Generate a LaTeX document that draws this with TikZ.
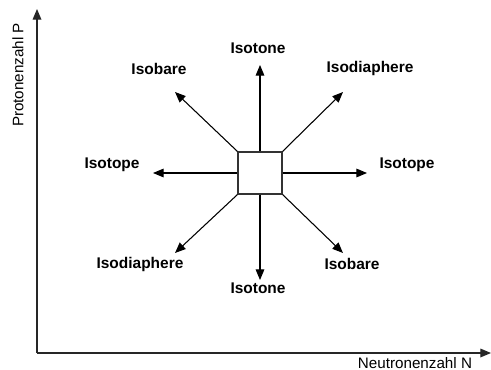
\documentclass[tikz,border=0pt]{standalone}
\usepackage{fontspec}
\setmainfont{Liberation Sans}
\usetikzlibrary{arrows.meta}

\begin{document}
\begin{tikzpicture}[x=0.75pt, y=-0.75pt, >={Triangle[length=8pt, width=6.5pt]},
  axis/.style={->, line width=0.9pt, black!85},
  ray/.style={->, line width=0.8pt},
  lbl/.style={font=\fontsize{11.6}{13}\selectfont\bfseries, inner sep=0pt},
  axlbl/.style={font=\fontsize{11.4}{13}\selectfont, inner sep=0pt}]

\useasboundingbox (0,0) rectangle (491,370);

% ---------- axes ----------
\coordinate (origin) at (37,353);
\coordinate (ptip) at (37,9);
\coordinate (ntip) at (491,353);
\draw[axis] (origin) -- (ptip);
\draw[axis] (origin) -- (ntip);
\node[axlbl, rotate=90] (plbl) at (18,75) {Protonenzahl P};
\node[axlbl] (nlbl) at (415,363) {Neutronenzahl N};

% ---------- nucleus ----------
\node[draw, line width=0.8pt, black!80, minimum width=33pt, minimum height=31.5pt, inner sep=0pt]
  (kern) at (260,173) {};

% ---------- arrow tips ----------
\coordinate (tn) at (260,65);
\coordinate (ts) at (260,280);
\coordinate (tw) at (153,173);
\coordinate (te) at (367,173);
\coordinate (tnw) at (175,92);
\coordinate (tne) at (343,92);
\coordinate (tsw) at (175,253);
\coordinate (tse) at (343,253);

\draw[ray] (kern.north) -- (tn);
\draw[ray] (kern.south) -- (ts);
\draw[ray] (kern.west) -- (tw);
\draw[ray] (kern.east) -- (te);
\draw[ray] (kern.north west) -- (tnw);
\draw[ray] (kern.north east) -- (tne);
\draw[ray] (kern.south west) -- (tsw);
\draw[ray] (kern.south east) -- (tse);

% ---------- labels ----------
\node[lbl] (ln) at (258,48) {Isotone};
\node[lbl] (ls) at (258,288) {Isotone};
\node[lbl] (lw) at (112,165) {Isotope};
\node[lbl] (le) at (407,165) {Isotope};
\node[lbl] (lnw) at (159,69) {Isobare};
\node[lbl] (lne) at (370,69) {Isodiaphere};
\node[lbl] (lsw) at (140,264) {Isodiaphere};
\node[lbl] (lse) at (352,264) {Isobare};

\end{tikzpicture}
\end{document}
